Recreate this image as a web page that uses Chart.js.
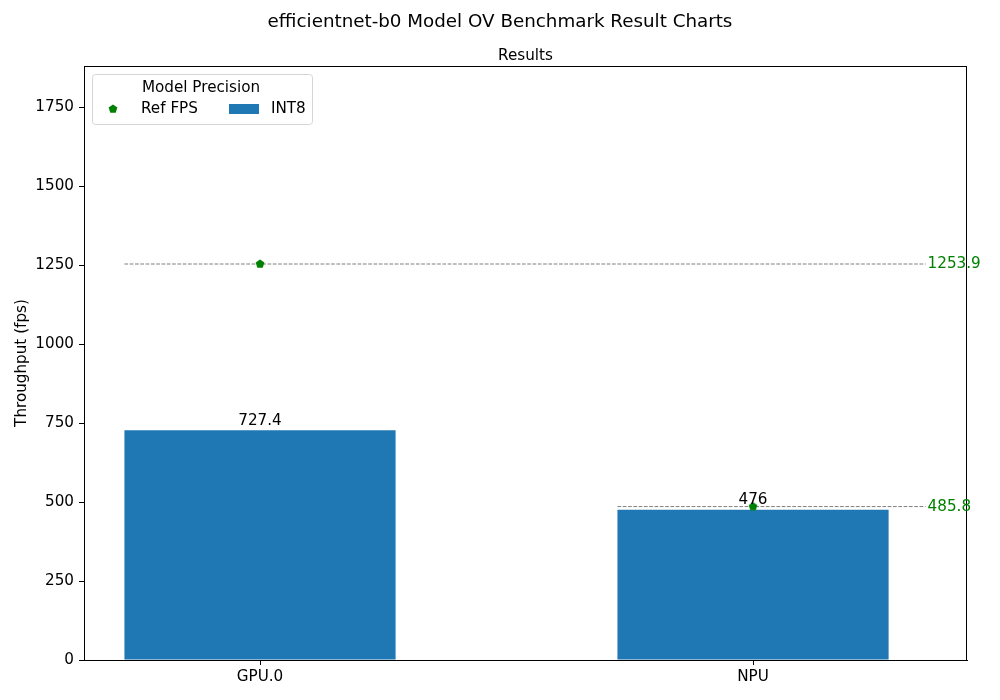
<!DOCTYPE html>
<html>
<head>
<meta charset="utf-8">
<script src="https://cdn.jsdelivr.net/npm/chart.js@4.4.1/dist/chart.umd.min.js"></script>
<style>
  html, body { margin: 0; padding: 0; background: #fff; }
</style>
</head>
<body>
<canvas id="benchChart" width="1000" height="700"></canvas>
<script>
// chart data
const devices = ['GPU.0', 'NPU'];
const int8Fps = [727.4, 476];
const refFps = [1253.9, 485.8];
const yTicks = [0, 250, 500, 750, 1000, 1250, 1500, 1750];

const mainTitle = 'efficientnet-b0 Model OV Benchmark Result Charts';
const subTitle = 'Results';
const legendTitle = 'Model Precision';

const FONT = '"DejaVu Sans", sans-serif';
const FS = 15.2;
const BAR_WIDTH = 0.55;      // in category units
const REF_LINE_END = 1.35;   // where the reference lines stop (x units)
const BLUE = '#1f77b4';
const GREEN = 'green';

// pentagon marker, matplotlib 'p'
function makePentagon(r, color) {
  const c = document.createElement('canvas');
  const s = Math.ceil(r * 2 + 2);
  c.width = s; c.height = s;
  const g = c.getContext('2d');
  g.beginPath();
  for (let i = 0; i < 5; i++) {
    const a = -Math.PI / 2 + i * 2 * Math.PI / 5;
    const px = s / 2 + r * Math.cos(a), py = s / 2 + r * Math.sin(a);
    i ? g.lineTo(px, py) : g.moveTo(px, py);
  }
  g.closePath();
  g.fillStyle = color;
  g.fill();
  return c;
}
const pentagon = makePentagon(4.6, GREEN);

// dashed reference lines, one dataset per device
const refLineSets = refFps.map((v, i) => ({
  type: 'line',
  label: 'ref-line-' + i,
  data: [{ x: i - BAR_WIDTH / 2, y: v }, { x: REF_LINE_END, y: v }],
  borderColor: '#7f7f7f',
  borderWidth: 1,
  borderDash: [3.7, 1.6],
  pointRadius: 0,
  fill: false,
  order: 2
}));

// draws titles, frame, value labels and the legend box
const decorations = {
  id: 'decorations',
  afterDraw(chart) {
    const ctx = chart.ctx;
    const area = chart.chartArea;
    ctx.save();

    // titles
    ctx.fillStyle = '#000';
    ctx.textAlign = 'center';
    ctx.textBaseline = 'middle';
    ctx.font = '18.3px ' + FONT;
    ctx.fillText(mainTitle, chart.width / 2, 22);
    ctx.font = FS + 'px ' + FONT;
    ctx.fillText(subTitle, (area.left + area.right) / 2, 56);

    // frame
    ctx.strokeStyle = '#000';
    ctx.lineWidth = 1;
    ctx.strokeRect(area.left + 0.5, area.top + 0.5, area.right - area.left - 1, area.bottom - area.top);

    // bar values
    const barMeta = chart.getDatasetMeta(0);
    ctx.textBaseline = 'bottom';
    barMeta.data.forEach((el, i) => {
      ctx.fillText(String(int8Fps[i]), el.x, el.y - 2);
    });

    // ref values at the end of the dashed lines
    ctx.fillStyle = GREEN;
    ctx.textAlign = 'left';
    ctx.textBaseline = 'middle';
    refFps.forEach((v, i) => {
      const meta = chart.getDatasetMeta(2 + i);
      const end = meta.data[1];
      ctx.fillText(v.toFixed(1), end.x + 2, end.y);
    });

    // legend box
    const lx = area.left + 8, ly = area.top + 8, lw = 220, lh = 50;
    ctx.beginPath();
    ctx.roundRect(lx + 0.5, ly + 0.5, lw, lh, 3);
    ctx.fillStyle = 'rgba(255,255,255,0.8)';
    ctx.fill();
    ctx.strokeStyle = '#d5d5d5';
    ctx.stroke();

    ctx.fillStyle = '#000';
    ctx.textAlign = 'center';
    ctx.fillText(legendTitle, lx + 109, ly + 14);

    const rowY = ly + 35;
    ctx.drawImage(pentagon, lx + 21 - pentagon.width / 2, rowY - pentagon.height / 2);
    ctx.textAlign = 'left';
    ctx.fillText(chart.data.datasets[1].label, lx + 49, rowY);
    ctx.fillStyle = BLUE;
    ctx.fillRect(lx + 137, rowY - 5, 30, 10);
    ctx.fillStyle = '#000';
    ctx.fillText(chart.data.datasets[0].label, lx + 179, rowY);

    ctx.restore();
  }
};

new Chart(document.getElementById('benchChart'), {
  data: {
    datasets: [
      {
        type: 'bar',
        label: 'INT8',
        data: int8Fps.map((v, i) => ({ x: i, y: v })),
        backgroundColor: BLUE,
        borderWidth: 0,
        barPercentage: BAR_WIDTH,
        categoryPercentage: 1,
        order: 3
      },
      {
        type: 'scatter',
        label: 'Ref FPS',
        data: refFps.map((v, i) => ({ x: i, y: v })),
        pointStyle: pentagon,
        pointRadius: 4,
        order: 1
      },
      ...refLineSets
    ]
  },
  options: {
    responsive: false,
    animation: false,
    devicePixelRatio: 1,
    layout: { padding: { left: 0, right: 33, top: 66, bottom: 0 } },
    plugins: {
      legend: { display: false },
      tooltip: { enabled: false }
    },
    scales: {
      x: {
        type: 'linear',
        min: -0.357,
        max: 1.434,
        offset: false,
        afterBuildTicks: (s) => { s.ticks = devices.map((d, i) => ({ value: i })); },
        afterFit: (s) => { s.height = 40; },
        ticks: {
          callback: (v) => devices[v],
          color: '#000',
          font: { family: FONT, size: FS },
          padding: 3,
          maxRotation: 0,
          autoSkip: false
        },
        grid: { offset: false, drawOnChartArea: false, drawTicks: true, tickLength: 5, color: '#000' },
        border: { display: true, color: '#000' }
      },
      y: {
        min: 0,
        max: Math.max(...refFps) * 1.5,
        afterBuildTicks: (s) => { s.ticks = yTicks.map(v => ({ value: v })); },
        afterFit: (s) => { s.width = 84; },
        ticks: {
          callback: (v) => String(v),
          color: '#000',
          font: { family: FONT, size: FS },
          padding: 5
        },
        title: {
          display: true,
          text: 'Throughput (fps)',
          color: '#000',
          font: { family: FONT, size: FS },
          padding: { top: 13, bottom: 4 }
        },
        grid: { drawOnChartArea: false, drawTicks: true, tickLength: 5, color: '#000' },
        border: { display: true, color: '#000' }
      }
    }
  },
  plugins: [decorations]
});
</script>
</body>
</html>
